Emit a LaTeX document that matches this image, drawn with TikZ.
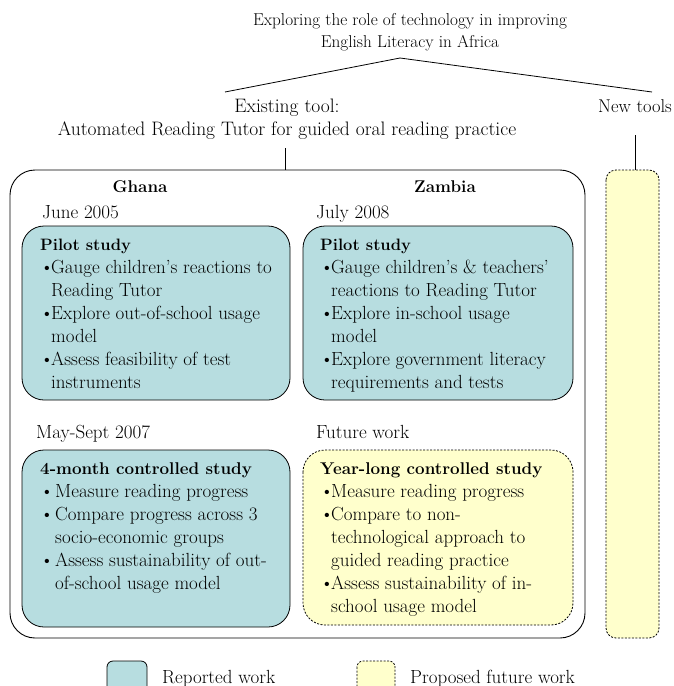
\documentclass[tikz,border=0pt]{standalone}
\usepackage{fontspec}
\definecolor{teal1}{RGB}{183,221,224}
\definecolor{yell1}{RGB}{255,255,204}
\newcommand\bl[1]{\makebox[11pt][l]{\textbullet}#1}
\newcommand\blw[1]{\makebox[15pt][l]{\textbullet}#1}
\newcommand\ct{\hspace*{11pt}}
\newcommand\ctw{\hspace*{15pt}}
\begin{document}
\begin{tikzpicture}[x=1pt,y=-1pt,
  txt/.style={inner sep=0pt,font=\fontsize{19}{23.1}\selectfont},
  ttl/.style={inner sep=0pt,font=\fontsize{17.2}{22}\selectfont},
  hd/.style={inner sep=0pt,font=\fontsize{17}{22}\selectfont\bfseries},
  rep/.style={draw,fill=teal1,rounded corners=22pt,line width=0.8pt},
  fut/.style={draw,fill=yell1,rounded corners=22pt,line width=0.8pt,dash pattern=on 2pt off 1.5pt},
  ln/.style={line width=0.8pt}]
\useasboundingbox (0,0) rectangle (674,686);
% title
\node[ttl,anchor=base] (title) at (410,25) {\begin{tabular}[t]{@{}c@{}}Exploring the role of technology in improving\\English Literacy in Africa\end{tabular}};
\node[inner sep=0pt,font=\fontsize{19.5}{23}\selectfont,anchor=base] (exist) at (287,112) {\begin{tabular}[t]{@{}c@{}}Existing tool:\\Automated Reading Tutor for guided oral reading practice\end{tabular}};
\node[inner sep=0pt,font=\fontsize{18.5}{22}\selectfont,anchor=base east] (new) at (672,112) {New tools};
\coordinate (apex) at (400,58);
\coordinate (le) at (225,92);
\coordinate (re) at (652,92);
\draw[ln] (le) -- (apex) -- (re);
% outer box
\draw[line width=0.9pt,rounded corners=25pt] (10,170) rectangle (585,638);
\coordinate (ob) at (285,170);
\coordinate (et) at (285,148);
\draw[ln] (et) -- (ob);
% tall dashed box
\draw[fut,rounded corners=10pt] (606,170) rectangle (659,638);
\coordinate (nb) at (635,135);
\coordinate (nt) at (635,170);
\draw[ln] (nb) -- (nt);
% headings
\node[hd,anchor=base] (ghana) at (140,192) {Ghana};
\node[hd,anchor=base] (zambia) at (445,192) {Zambia};
\node[txt,anchor=base west] (d1) at (42,218) {June 2005};
\node[txt,anchor=base west] (d2) at (316,218) {July 2008};
\node[txt,anchor=base west] (d3) at (36,438) {May-Sept 2007};
\node[txt,anchor=base west] (d4) at (316,438) {Future work};
% boxes
\draw[rep] (22,226) rectangle (290,400);
\draw[rep] (303,226) rectangle (573,400);
\draw[rep] (22,450) rectangle (290,627);
\draw[fut] (303,450) rectangle (573,625);
\node[txt,anchor=base west] (b1) at (40,250) {\begin{tabular}[t]{@{}l@{}}{\fontsize{16.5}{22}\selectfont\bfseries Pilot study}\\
\bl{Gauge children’s reactions to}\\ \ct Reading Tutor\\
\bl{Explore out-of-school usage}\\ \ct model\\
\bl{Assess feasibility of test}\\ \ct instruments\end{tabular}};
\node[txt,anchor=base west] (b2) at (320,250) {\begin{tabular}[t]{@{}l@{}}{\fontsize{16.5}{22}\selectfont\bfseries Pilot study}\\
\bl{Gauge children’s \& teachers’}\\ \ct reactions to Reading Tutor\\
\bl{Explore in-school usage}\\ \ct model\\
\bl{Explore government literacy}\\ \ct requirements and tests\end{tabular}};
\node[txt,anchor=base west] (b3) at (40,474) {\begin{tabular}[t]{@{}l@{}}{\fontsize{17}{22}\selectfont\bfseries 4-month controlled study}\\
\blw{Measure reading progress}\\
\blw{Compare progress across 3}\\ \ctw socio-economic groups\\
\blw{Assess sustainability of out-}\\ \ctw of-school usage model\end{tabular}};
\node[txt,anchor=base west] (b4) at (320,474) {\begin{tabular}[t]{@{}l@{}}{\fontsize{17}{22}\selectfont\bfseries Year-long controlled study}\\
\bl{Measure reading progress}\\
\bl{Compare to non-}\\ \ct technological approach to\\ \ct guided reading practice\\
\bl{Assess sustainability of in-}\\ \ct school usage model\end{tabular}};
% legend
\draw[rep,rounded corners=6pt] (107,661) rectangle (147,695);
\node[txt,anchor=base west] (l1) at (162,683) {Reported work};
\draw[fut,rounded corners=6pt] (357,661) rectangle (395,695);
\node[txt,anchor=base west] (l2) at (410,683) {Proposed future work};
\end{tikzpicture}
\end{document}
